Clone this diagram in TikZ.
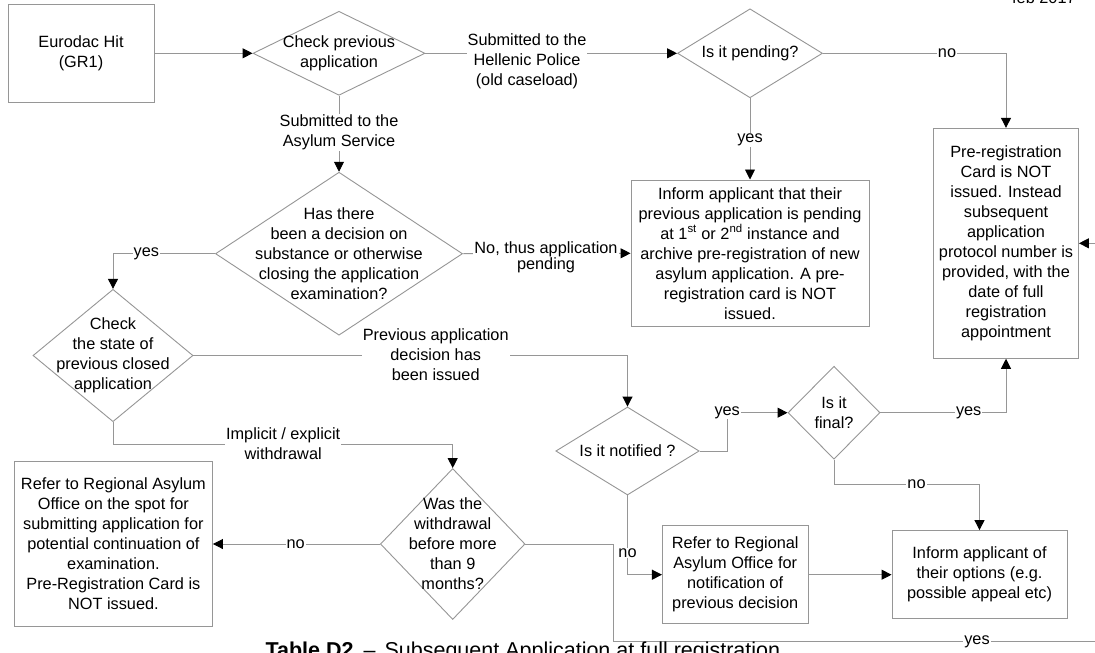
\documentclass[tikz,border=0pt]{standalone}
\usepackage{fontspec}
\setmainfont{Liberation Sans}
\usetikzlibrary{arrows.meta,shapes.geometric}
\definecolor{lgray}{RGB}{150,150,150}
\newcommand{\mainsz}{\fontsize{16.3}{20}\selectfont}
\tikzset{
  ln/.style={draw=lgray, line width=0.9pt},
  arr/.style={ln, -{Triangle[length=10pt,width=10pt,color=black,fill=black]}},
  box/.style={draw=lgray, line width=0.9pt, rectangle, inner sep=0pt, align=center, font=\mainsz},
  dia/.style={draw=lgray, line width=0.9pt, diamond, inner sep=0pt},
  txt/.style={align=center, inner sep=0pt, font=\mainsz},
  lbl/.style={fill=white, inner xsep=1pt, inner ysep=0.5pt, align=center, font=\mainsz},
}
\begin{document}
\begin{tikzpicture}[x=1pt,y=-1pt]
\useasboundingbox (0,0) rectangle (1095,653);
\fill[white] (0,0) rectangle (1095,653);

% nodes
\node[box, minimum width=146pt, minimum height=98.4pt] (eu) at (81,53.3) {Eurodac Hit\\(GR1)};
\node[dia, minimum width=172pt, minimum height=84pt] (cp) at (339,53.3) {};
\node[txt] (cpt) at (cp) {Check previous\\application};
\node[dia, minimum width=145pt, minimum height=89pt] (pend) at (750,53.3) {};
\node[txt] (pendt) at (pend) {Is it pending?};
\node[box, minimum width=145pt, minimum height=230pt] (pre) at (1006,243.3)
  {Pre-registration\\Card is NOT\\issued. Instead\\subsequent\\application\\protocol number is\\provided, with the\\date of full\\registration\\appointment};
\node[box, minimum width=238pt, minimum height=146.7pt] (inf) at (750,253.3)
  {Inform applicant that their\\previous application is pending\\at 1\textsuperscript{st} or 2\textsuperscript{nd} instance and\\archive pre-registration of new\\asylum application. A pre-\\registration card is NOT\\issued.};
\node[dia, minimum width=247pt, minimum height=163pt] (has) at (339,253.7) {};
\node[txt] (hast) at (has) {Has there\\been a decision on\\substance or otherwise\\closing the application\\examination?};
\node[dia, minimum width=160pt, minimum height=132.4pt] (cs) at (113,355.5) {};
\node[txt] (cst) at (cs) {Check\\the state of\\previous closed\\application};
\node[dia, minimum width=143.4pt, minimum height=88pt] (nt) at (627.5,451) {};
\node[txt] (ntt) at (nt) {Is it notified ?};
\node[dia, minimum width=92pt, minimum height=93pt] (fin) at (834,412.7) {};
\node[txt] (fint) at (fin) {Is it\\final?};
\node[box, minimum width=175pt, minimum height=88.3pt] (opt) at (979.5,574.7)
  {Inform applicant of\\their options (e.g.\\possible appeal etc)};
\node[box, minimum width=145.6pt, minimum height=97.6pt] (ref) at (735.2,574.7)
  {Refer to Regional\\Asylum Office for\\notification of\\previous decision};
\node[dia, minimum width=144.6pt, minimum height=151pt] (was) at (452.7,544) {};
\node[txt] (wast) at (was) {Was the\\withdrawal\\before more\\than 9\\months?};
\node[box, minimum width=198.2pt, minimum height=164.3pt] (rs) at (113.4,544)
  {Refer to Regional Asylum\\Office on the spot for\\submitting application for\\potential continuation of\\examination.\\Pre-Registration Card is\\NOT issued.};

% coordinates
\coordinate (yc) at (727.2,412.7);
\coordinate (nc) at (834,484);
\coordinate (wc) at (113,444);
\coordinate (yb1) at (613.9,641.7);
\coordinate (yb2) at (1095,641.7);
\coordinate (ye) at (1095,243.3);

% connectors
\draw[arr] (eu) -- (cp);
\draw[arr] (cp.east) -- (pend.west);
\draw[arr] (pend.east) -| (pre.north);
\draw[arr] (pend.south) -- (inf.north);
\draw[arr] (cp.south) -- (has.north);
\draw[arr] (has.east) -- (inf.west);
\draw[arr] (has.west) -| (cs.north);
\draw[arr] (cs.east) -| (nt.north);
\draw[arr] (nt.east) -| (yc) -- (fin.west);
\draw[arr] (fin.east) -| (pre.south);
\draw[arr] (fin.south) -- (nc) -| (opt.north);
\draw[arr] (nt.south) |- (ref.west);
\draw[arr] (ref.east) -- (opt.west);
\draw[arr] (cs.south) -- (wc) -| (was.north);
\draw[arr] (was.west) -- (rs.east);
\draw[ln] (was.east) -| (yb1) -- (yb2);
\draw[arr] (ye) -- (pre.east);

% labels
\node[lbl] (l1) at (527,61.3) {Submitted to the\\Hellenic Police\\(old caseload)};
\node[lbl] (l2) at (947,53.3) {no};
\node[lbl] (l3) at (750,140) {yes};
\node[lbl] (l4) at (339,132.5) {Submitted to the\\Asylum Service};
\node[lbl, font=\fontsize{16.3}{12}\selectfont] (l5) at (546,257.5) {No, thus application\\pending};
\node[lbl] (l6) at (146.4,253.7) {yes};
\node[lbl] (l7) at (435.7,355) {Previous application\\decision has\\been issued};
\node[lbl] (l8) at (yc) {yes};
\node[lbl] (l9) at (968.7,412.7) {yes};
\node[lbl] (l10) at (916.5,484) {no};
\node[lbl] (l11) at (627.5,552.7) {no};
\node[lbl] (l12) at (283.2,443.3) {Implicit / explicit\\withdrawal};
\node[lbl] (l13) at (295.7,544) {no};
\node[lbl] (l14) at (977,641.7) {yes};

% caption and date
\node[anchor=base west, inner sep=0pt, font=\fontsize{21.5}{24}\selectfont] (cap) at (265.4,657.5)
  {\textbf{Table D2}\hspace{10pt}–\hspace{9pt}Subsequent Application at full registration};
\node[anchor=base west, inner sep=0pt, font=\mainsz] (dt) at (1012,4) {feb 2017};
\end{tikzpicture}
\end{document}
